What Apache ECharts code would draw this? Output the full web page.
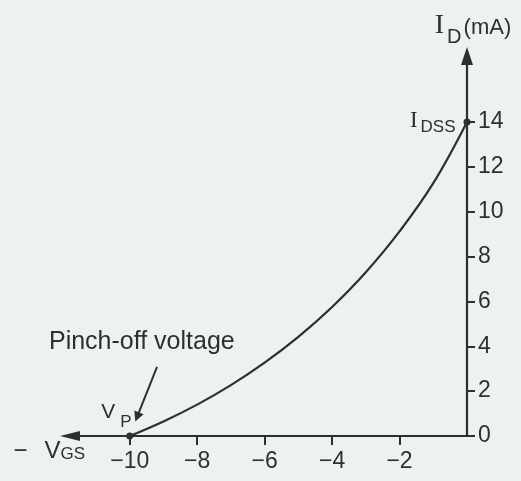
<!DOCTYPE html>
<html><head><meta charset="utf-8">
<script src="https://cdn.jsdelivr.net/npm/echarts@6/dist/echarts.min.js"></script>
<style>html,body{margin:0;padding:0;background:#edf1f2;}#c{width:521px;height:481px;}</style>
</head><body><div id="c"></div>
<script>
// ---- data ----
const vgsValues = [-10, -9, -8, -7, -6, -5, -4, -3, -2, -1, 0];
const idValues  = [0, 0.65, 1.4, 2.27, 3.27, 4.42, 5.75, 7.3, 9.12, 11.27, 14];
const xTickValues = [-10, -8, -6, -4, -2];
const xTickLabels = ['−10', '−8', '−6', '−4', '−2'];
const yTickValues = [0, 2, 4, 6, 8, 10, 12, 14];
const yTickLabels = ['0', '2', '4', '6', '8', '10', '12', '14'];
const pinchOffPoint = [-10, 0];
const idssPoint = [0, 14];
const xRange = [-11.77, 0];
const yRange = [0, 16.94];
// annotation anchors (data space)
const noteArrowFrom = [-9.19, 3.08];
const noteArrowTo = [-9.78, 0.85];
const noteTextAt = [-9.64, 4.19];

const INK = '#2f2f2f';
const SANS = '"Liberation Sans",Arial,sans-serif';
const SERIF = '"Liberation Serif","Times New Roman",serif';

const curve = vgsValues.map((v, i) => [v, idValues[i]]);

const chart = echarts.init(document.getElementById('c'), null, {renderer: 'canvas'});
chart.setOption({
  backgroundColor: '#edf1f2',
  animation: false,
  grid: {left: 70, right: 54, top: 56, bottom: 45, containLabel: false, outerBoundsMode: 'none'},
  xAxis: {
    type: 'value', min: xRange[0], max: xRange[1],
    splitLine: {show: false},
    axisLine: {onZero: false, symbol: ['triangle', 'none'], symbolSize: [10, 20], lineStyle: {color: INK, width: 2.2}},
    axisTick: {show: true, inside: false, length: 9, customValues: xTickValues, lineStyle: {color: INK, width: 2}},
    axisLabel: {customValues: xTickValues, margin: 14, color: INK, fontFamily: SANS, fontSize: 23,
      formatter: v => xTickLabels[xTickValues.indexOf(v)] || ''},
    name: '{m|−}{v|V}{s|GS}', nameLocation: 'start', nameGap: -15,
    nameTextStyle: {align: 'right', verticalAlign: 'top', padding: [3, 0, 0, 0],
      rich: {
        m: {fontFamily: SANS, fontSize: 24, color: INK, padding: [0, 17, 0, 0], verticalAlign: 'bottom', lineHeight: 24},
        v: {fontFamily: SANS, fontSize: 24, color: INK, verticalAlign: 'bottom', lineHeight: 24},
        s: {fontFamily: SANS, fontSize: 17, color: INK, verticalAlign: 'bottom', lineHeight: 17}
      }}
  },
  yAxis: {
    type: 'value', min: yRange[0], max: yRange[1], position: 'right',
    splitLine: {show: false},
    axisLine: {onZero: false, symbol: ['none', 'triangle'], symbolSize: [12, 18], lineStyle: {color: INK, width: 2.2}},
    axisTick: {show: true, inside: false, length: 8, customValues: yTickValues, lineStyle: {color: INK, width: 2}},
    axisLabel: {customValues: yTickValues, margin: 11, color: INK, fontFamily: SANS, fontSize: 23,
      formatter: v => yTickLabels[yTickValues.indexOf(v)] || ''},
    name: '{i|I}{d|D}{u|(mA)}', nameLocation: 'end', nameGap: 9,
    nameTextStyle: {align: 'center', verticalAlign: 'bottom', padding: [0, 0, 0, 12],
      rich: {
        i: {fontFamily: SERIF, fontSize: 28, lineHeight: 28, color: INK, padding: [0, 0, 7, 0], verticalAlign: 'bottom'},
        d: {fontFamily: SANS, fontSize: 20, lineHeight: 20, color: INK, padding: [0, 2, 0, 3], verticalAlign: 'bottom'},
        u: {fontFamily: SANS, fontSize: 22, lineHeight: 22, color: INK, padding: [0, 0, 8, 0], verticalAlign: 'bottom'}
      }}
  },
  series: [
    {
      type: 'line', data: curve, smooth: 0.4, showSymbol: false, silent: true,
      lineStyle: {color: INK, width: 2.2}, z: 3
    },
    {
      type: 'scatter', silent: true, symbol: 'circle', symbolSize: 7,
      itemStyle: {color: INK, opacity: 1}, z: 5,
      data: [
        {value: pinchOffPoint, label: {show: true, color: INK, position: [5.5, -2], align: 'right', verticalAlign: 'bottom',
          formatter: '{v|V}{p|P}',
          rich: {
            v: {fontFamily: SANS, fontSize: 21, lineHeight: 21, color: INK, padding: [0, 5, 8, 0], verticalAlign: 'bottom'},
            p: {fontFamily: SANS, fontSize: 17, lineHeight: 17, color: INK, verticalAlign: 'bottom'}
          }}},
        {value: idssPoint, label: {show: true, color: INK, position: 'left', distance: 8, offset: [0, 2],
          formatter: '{i|I}{d|DSS}',
          rich: {
            i: {fontFamily: SERIF, fontSize: 23, lineHeight: 23, color: INK, padding: [0, 3, 3, 0], verticalAlign: 'bottom'},
            d: {fontFamily: SANS, fontSize: 17, lineHeight: 17, color: INK, verticalAlign: 'bottom'}
          }}}
      ],
      markLine: {
        silent: true, symbol: ['none', 'triangle'], symbolSize: 10,
        label: {show: false}, emphasis: {disabled: true},
        itemStyle: {color: INK},
        lineStyle: {color: INK, width: 2, type: 'solid', opacity: 1},
        data: [[{coord: noteArrowFrom}, {coord: noteArrowTo}]]
      },
      markPoint: {
        silent: true, symbol: 'circle', symbolSize: 0,
        itemStyle: {color: 'rgba(0,0,0,0)'},
        label: {show: true, position: 'inside', formatter: 'Pinch-off voltage', color: INK, fontFamily: SANS, fontSize: 25},
        data: [{coord: noteTextAt}]
      }
    }
  ]
});
</script>
</body></html>
